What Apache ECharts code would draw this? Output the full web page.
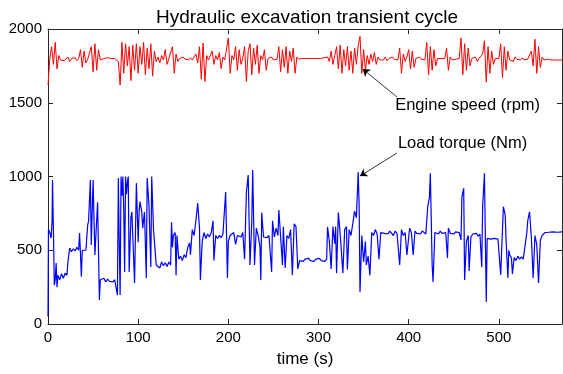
<!DOCTYPE html>
<html>
<head>
<meta charset="utf-8">
<title>Hydraulic excavation transient cycle</title>
<script src="https://cdn.jsdelivr.net/npm/echarts@6/dist/echarts.min.js"></script>
<style>
  html, body { margin: 0; padding: 0; background: #fff; }
  #chart { width: 563px; height: 374px; }
</style>
</head>
<body>
<div id="chart"></div>
<script>
// engine speed, sampled every 2 s from 0 to 570 s (rpm)
const speedStep = 2;
const speedRpm = [
    1620, 1800, 1880, 1760, 1910, 1730, 1820, 1790, 1800, 1785,
    1795, 1810, 1780, 1800, 1790, 1805, 1785, 1800, 1860, 1740,
    1850, 1770, 1795, 1800, 1880, 1710, 1900, 1720, 1860, 1790,
    1795, 1800, 1790, 1805, 1795, 1800, 1790, 1800, 1795, 1780,
    1620, 1910, 1700, 1900, 1750, 1880, 1650, 1890, 1720, 1900,
    1700, 1880, 1760, 1910, 1690, 1870, 1730, 1900, 1680, 1850,
    1780, 1810, 1770, 1820, 1790, 1860, 1760, 1800, 1790, 1880,
    1700, 1830, 1780, 1800, 1790, 1810, 1795, 1800, 1790, 1805,
    1790, 1800, 1830, 1770, 1880, 1660, 1905, 1645, 1820, 1790,
    1800, 1850, 1760, 1820, 1790, 1840, 1730, 1810, 1790, 1800,
    1940, 1700, 1820, 1790, 1880, 1720, 1860, 1760, 1800, 1880,
    1645, 1850, 1900, 1690, 1870, 1760, 1890, 1700, 1820, 1790,
    1860, 1720, 1800, 1790, 1810, 1790, 1800, 1795, 1880, 1710,
    1860, 1740, 1880, 1700, 1850, 1780, 1870, 1700, 1810, 1795,
    1795, 1800, 1790, 1800, 1795, 1800, 1790, 1800, 1795, 1800,
    1795, 1800, 1790, 1805, 1795, 1810, 1780, 1850, 1760, 1820,
    1880, 1730, 1890, 1700, 1860, 1750, 1880, 1720, 1850, 1700,
    1870, 1760, 1890, 1950, 1700, 1860, 1720, 1820, 1760, 1830,
    1780, 1840, 1760, 1810, 1790, 1800, 1790, 1810, 1785, 1800,
    1790, 1810, 1795, 1800, 1790, 1870, 1700, 1830, 1780, 1810,
    1860, 1730, 1850, 1740, 1800, 1790, 1810, 1795, 1800, 1790,
    1910, 1690, 1880, 1720, 1860, 1750, 1800, 1790, 1800, 1795,
    1800, 1870, 1720, 1810, 1790, 1800, 1795, 1790, 1800, 1940,
    1690, 1900, 1720, 1870, 1750, 1800, 1790, 1810, 1780, 1800,
    1795, 1830, 1920, 1640, 1880, 1700, 1850, 1760, 1800, 1790,
    1800, 1900, 1670, 1880, 1720, 1850, 1790, 1800, 1780, 1810,
    1795, 1800, 1790, 1805, 1790, 1800, 1795, 1800, 1850, 1750,
    1930, 1700, 1880, 1740, 1810, 1790, 1800, 1795, 1790, 1790,
    1790, 1790, 1790, 1790, 1790, 1790
];

// load torque, read at the times where the trace changes (s, Nm)
const torqueTime = [
    0, 0.5, 2, 3.5, 4.5, 5, 6, 7, 8, 9, 10, 11, 13, 15, 17, 19, 21, 22, 24, 26,
    28, 30, 32, 34, 35, 36, 37, 38, 40, 42, 44, 45, 47, 48, 50, 52, 54, 55, 57, 58,
    60, 62, 64, 66, 68, 70, 72, 74, 76, 77, 78, 79, 80, 81, 82, 83, 84, 85, 86, 87,
    88, 89, 90, 92, 93, 94, 96, 98, 100, 101, 102, 104, 105, 107, 109, 110, 112, 114, 115, 117,
    119, 120, 122, 124, 126, 128, 130, 132, 134, 136, 137, 138, 139, 141, 142, 143, 145, 147, 149, 151,
    153, 155, 157, 158, 160, 162, 164, 166, 168, 169, 171, 173, 175, 177, 179, 181, 183, 184, 186, 188,
    190, 192, 194, 196, 197, 199, 200, 202, 204, 206, 208, 210, 212, 214, 216, 218, 220, 222, 224, 226,
    227, 229, 231, 233, 235, 236, 237, 239, 241, 243, 245, 247, 248, 249, 251, 253, 255, 256, 258, 260,
    261, 263, 265, 267, 269, 271, 273, 275, 277, 279, 281, 283, 285, 287, 289, 291, 293, 295, 297, 299,
    301, 303, 305, 307, 309, 310, 312, 314, 316, 318, 319, 320, 322, 324, 326, 327, 329, 331, 332, 334,
    336, 338, 340, 342, 344, 345, 346, 348, 350, 352, 353, 355, 357, 359, 361, 363, 365, 367, 369, 371,
    373, 375, 377, 379, 381, 383, 385, 387, 389, 390, 392, 394, 396, 398, 401, 403, 405, 407, 409, 411,
    413, 415, 417, 419, 421, 423, 424, 426, 427, 429, 431, 433, 435, 437, 439, 441, 443, 444, 446, 448,
    450, 452, 454, 456, 458, 459, 461, 462, 464, 466, 467, 469, 471, 473, 475, 477, 479, 481, 482, 484,
    486, 487, 489, 491, 493, 495, 497, 499, 501, 502, 505, 507, 508, 510, 511, 512, 514, 515, 517, 519,
    521, 523, 525, 527, 529, 531, 532, 534, 536, 538, 540, 542, 544, 546, 548, 551, 555, 560, 565, 570
];
const torqueNm = [
    50, 640, 620, 583, 700, 976, 640, 264, 300, 413, 250, 330, 300, 340, 310, 345, 330, 413, 515, 490,
    510, 495, 520, 500, 616, 480, 320, 500, 510, 500, 670, 700, 976, 535, 976, 468, 480, 826, 163, 300,
    290, 310, 285, 305, 290, 300, 285, 300, 296, 196, 990, 555, 196, 1000, 870, 1000, 780, 352, 1000, 880,
    960, 1000, 352, 725, 760, 600, 278, 955, 555, 760, 830, 760, 650, 760, 312, 990, 800, 386, 1000, 640,
    650, 400, 410, 380, 420, 395, 415, 390, 420, 400, 690, 520, 600, 620, 330, 600, 440, 460, 430, 470,
    450, 520, 550, 470, 640, 600, 700, 820, 650, 298, 560, 620, 580, 610, 590, 620, 700, 430, 600, 580,
    600, 585, 610, 620, 895, 312, 560, 600, 590, 620, 540, 600, 610, 590, 620, 440, 895, 1010, 400, 700,
    1044, 400, 650, 600, 530, 298, 755, 590, 600, 585, 600, 610, 352, 700, 590, 650, 600, 773, 760, 400,
    660, 380, 600, 580, 640, 332, 680, 660, 373, 430, 440, 425, 440, 430, 445, 430, 440, 425, 440, 430,
    445, 430, 440, 425, 440, 658, 560, 373, 660, 545, 660, 345, 755, 610, 620, 345, 640, 660, 370, 640,
    600, 680, 765, 720, 1031, 820, 217, 600, 420, 560, 400, 460, 330, 620, 600, 640, 610, 440, 620, 630,
    615, 625, 610, 630, 620, 600, 630, 615, 625, 400, 640, 600, 620, 468, 650, 620, 468, 630, 615, 625,
    610, 630, 620, 610, 790, 860, 1022, 400, 285, 620, 625, 610, 630, 615, 625, 620, 447, 650, 615, 620,
    610, 625, 615, 620, 570, 860, 920, 298, 560, 600, 360, 590, 610, 600, 615, 595, 610, 385, 800, 1022,
    150, 580, 590, 575, 585, 580, 590, 575, 585, 332, 795, 740, 570, 312, 500, 470, 447, 340, 450, 430,
    460, 440, 455, 440, 450, 620, 700, 760, 590, 312, 600, 540, 278, 570, 600, 620, 622, 625, 622, 625
];

const xTicks = [0, 100, 200, 300, 400, 500];
const yTicks = [0, 500, 1000, 1500, 2000];

// text labels and arrows: [label, textAt(t, v), arrowFrom(t, v), arrowTo(t, v)]
const notes = [
    ['Engine speed (rpm)', [385, 1485], [387, 1539], [349, 1729]],
    ['Load torque (Nm)', [388, 1227], [387, 1159], [346, 1003]]
];

const FONT = '"Liberation Sans", Arial, Helvetica, sans-serif';
const INK = '#262626';

let speedData = speedRpm.map((v, i) => [i * speedStep, v]);
let torqueData = torqueTime.map((t, i) => [t, torqueNm[i]]);

const chart = echarts.init(document.getElementById('chart'), null, { renderer: 'canvas' });

function boxAxis(base) {
    return Object.assign({
        axisLine: { show: true, onZero: false, lineStyle: { color: INK, width: 1 } },
        axisTick: { show: true, inside: true, length: 5, lineStyle: { color: INK } },
        splitLine: { show: false }
    }, base);
}

chart.setOption({
    animation: false,
    backgroundColor: '#fff',
    title: {
        text: 'Hydraulic excavation transient cycle',
        // centred over the plot box, not the whole canvas
        left: 302,
        textAlign: 'center',
        top: 3,
        textStyle: { fontFamily: FONT, fontSize: 19, fontWeight: 'normal', color: '#000' }
    },
    grid: { left: 48, right: 1, top: 29, bottom: 50 },
    xAxis: [
        boxAxis({
            type: 'value', min: 0, max: 570, interval: 100, position: 'bottom',
            name: 'time (s)', nameLocation: 'middle', nameGap: 27,
            nameTextStyle: { fontFamily: FONT, fontSize: 17, color: '#000' },
            axisLabel: {
                fontFamily: FONT, fontSize: 15, color: '#000', margin: 6,
                showMaxLabel: false,
                formatter: v => xTicks.includes(v) ? String(v) : ''
            }
        }),
        boxAxis({
            type: 'value', min: 0, max: 570, interval: 100, position: 'top',
            axisLabel: { show: false }
        })
    ],
    yAxis: [
        boxAxis({
            type: 'value', min: 0, max: 2000, interval: 500, position: 'left',
            axisLabel: {
                fontFamily: FONT, fontSize: 15, color: '#000', margin: 6,
                formatter: v => yTicks.includes(v) ? String(v) : ''
            }
        }),
        boxAxis({
            type: 'value', min: 0, max: 2000, interval: 500, position: 'right',
            axisLabel: { show: false }
        })
    ],
    series: [
        {
            name: 'Engine speed',
            type: 'line',
            data: speedData,
            showSymbol: false,
            lineStyle: { color: '#ff0000', width: 1 },
            itemStyle: { color: '#ff0000' },
            z: 3,
            markLine: {
                silent: true,
                symbol: ['none', 'arrow'],
                symbolSize: 7,
                label: { show: false },
                lineStyle: { color: '#000', width: 0.8, type: 'solid' },
                itemStyle: { color: '#000' },
                data: notes.map(n => [
                    { coord: n[2] },
                    { coord: n[3] }
                ])
            }
        },
        {
            name: 'Load torque',
            type: 'line',
            data: torqueData,
            showSymbol: false,
            lineStyle: { color: '#0000ff', width: 1.2 },
            itemStyle: { color: '#0000ff' },
            z: 2
        }
    ]
});

// annotation texts placed through the chart's own coordinate system
chart.setOption({
    graphic: notes.map(n => {
        const p = chart.convertToPixel({ gridIndex: 0 }, n[1]);
        return {
            type: 'text',
            x: p[0],
            y: p[1],
            style: {
                text: n[0],
                fill: '#000',
                font: '16.5px ' + FONT,
                textAlign: 'left',
                textVerticalAlign: 'middle'
            },
            z: 10
        };
    })
});
</script>
</body>
</html>
